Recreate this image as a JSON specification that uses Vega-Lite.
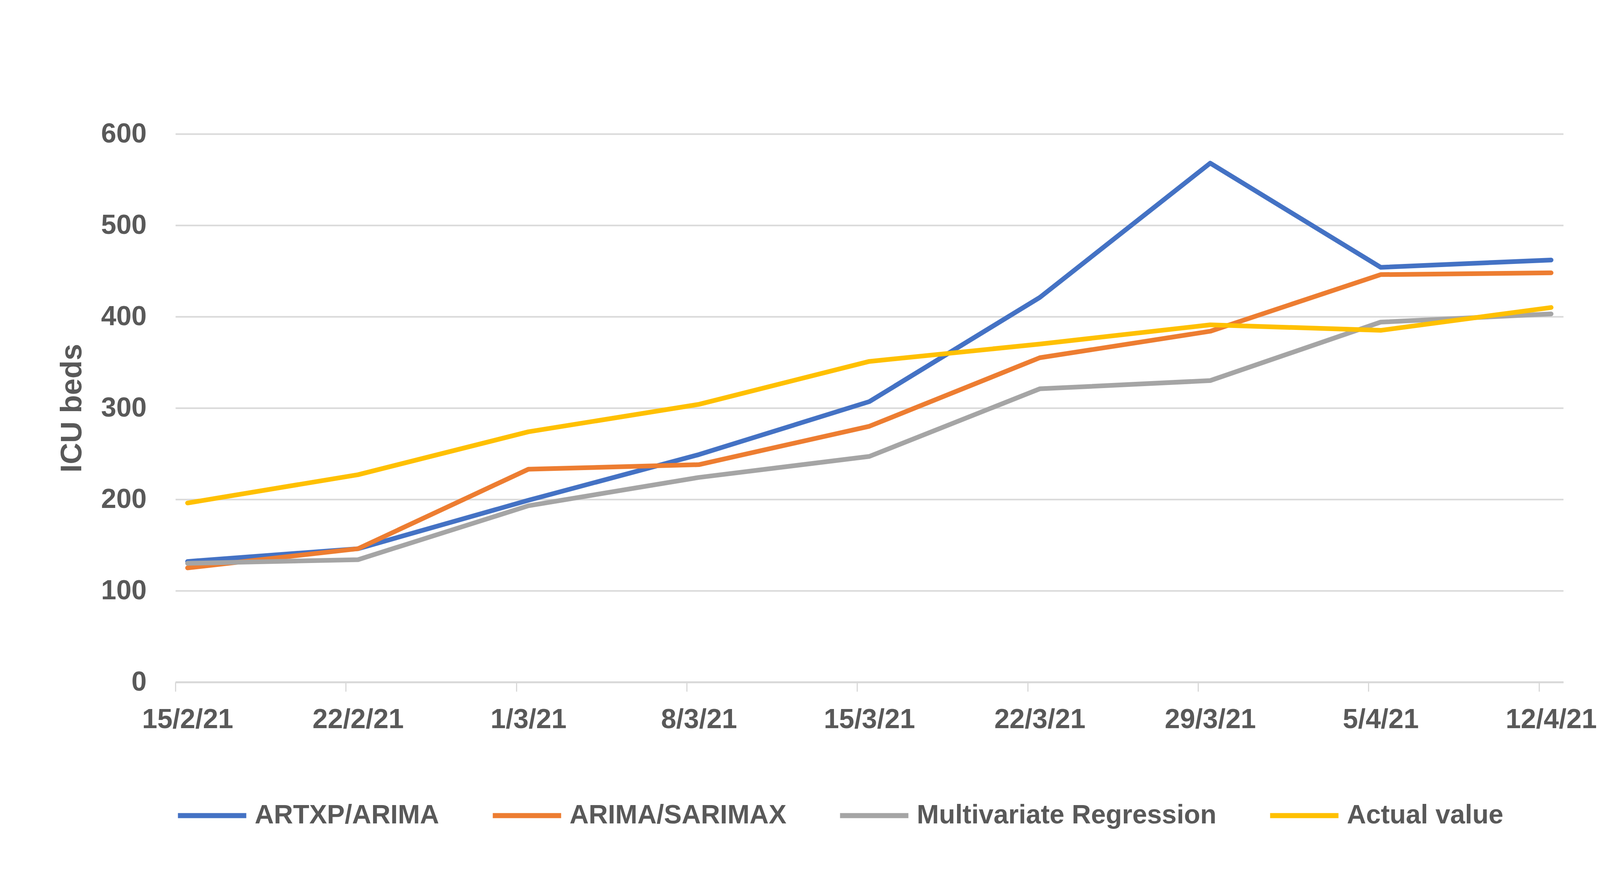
{
  "$schema": "https://vega.github.io/schema/vega-lite/v6.json",
  "autosize": {"type": "none"},
  "width": 3553,
  "height": 1404,
  "padding": {"left": 449, "top": 343, "right": 280, "bottom": 489},
  "background": "white",
  "config": {
    "view": {"stroke": null},
    "font": "Liberation Sans"
  },
  "data": {
    "values": [
      {"date": "2021-02-15T12:00:00", "series": "ARTXP/ARIMA", "value": 132},
      {"date": "2021-02-22T12:00:00", "series": "ARTXP/ARIMA", "value": 146},
      {"date": "2021-03-01T12:00:00", "series": "ARTXP/ARIMA", "value": 199},
      {"date": "2021-03-08T12:00:00", "series": "ARTXP/ARIMA", "value": 249},
      {"date": "2021-03-15T12:00:00", "series": "ARTXP/ARIMA", "value": 307},
      {"date": "2021-03-22T12:00:00", "series": "ARTXP/ARIMA", "value": 421},
      {"date": "2021-03-29T12:00:00", "series": "ARTXP/ARIMA", "value": 568},
      {"date": "2021-04-05T12:00:00", "series": "ARTXP/ARIMA", "value": 454},
      {"date": "2021-04-12T12:00:00", "series": "ARTXP/ARIMA", "value": 462},
      {"date": "2021-02-15T12:00:00", "series": "ARIMA/SARIMAX", "value": 125},
      {"date": "2021-02-22T12:00:00", "series": "ARIMA/SARIMAX", "value": 146},
      {"date": "2021-03-01T12:00:00", "series": "ARIMA/SARIMAX", "value": 233},
      {"date": "2021-03-08T12:00:00", "series": "ARIMA/SARIMAX", "value": 238},
      {"date": "2021-03-15T12:00:00", "series": "ARIMA/SARIMAX", "value": 280},
      {"date": "2021-03-22T12:00:00", "series": "ARIMA/SARIMAX", "value": 355},
      {"date": "2021-03-29T12:00:00", "series": "ARIMA/SARIMAX", "value": 384},
      {"date": "2021-04-05T12:00:00", "series": "ARIMA/SARIMAX", "value": 446},
      {"date": "2021-04-12T12:00:00", "series": "ARIMA/SARIMAX", "value": 448},
      {"date": "2021-02-15T12:00:00", "series": "Multivariate Regression", "value": 130},
      {"date": "2021-02-22T12:00:00", "series": "Multivariate Regression", "value": 134},
      {"date": "2021-03-01T12:00:00", "series": "Multivariate Regression", "value": 193},
      {"date": "2021-03-08T12:00:00", "series": "Multivariate Regression", "value": 224},
      {"date": "2021-03-15T12:00:00", "series": "Multivariate Regression", "value": 247},
      {"date": "2021-03-22T12:00:00", "series": "Multivariate Regression", "value": 321},
      {"date": "2021-03-29T12:00:00", "series": "Multivariate Regression", "value": 330},
      {"date": "2021-04-05T12:00:00", "series": "Multivariate Regression", "value": 394},
      {"date": "2021-04-12T12:00:00", "series": "Multivariate Regression", "value": 403},
      {"date": "2021-02-15T12:00:00", "series": "Actual value", "value": 196},
      {"date": "2021-02-22T12:00:00", "series": "Actual value", "value": 227},
      {"date": "2021-03-01T12:00:00", "series": "Actual value", "value": 274},
      {"date": "2021-03-08T12:00:00", "series": "Actual value", "value": 304},
      {"date": "2021-03-15T12:00:00", "series": "Actual value", "value": 351},
      {"date": "2021-03-22T12:00:00", "series": "Actual value", "value": 370},
      {"date": "2021-03-29T12:00:00", "series": "Actual value", "value": 391},
      {"date": "2021-04-05T12:00:00", "series": "Actual value", "value": 385},
      {"date": "2021-04-12T12:00:00", "series": "Actual value", "value": 410}
    ]
  },
  "mark": {"type": "line", "strokeWidth": 12, "strokeCap": "round", "strokeJoin": "round"},
  "encoding": {
    "x": {
      "field": "date",
      "type": "temporal",
      "scale": {"domain": [{"year": 2021, "month": 2, "date": 15}, {"year": 2021, "month": 4, "date": 13}]},
      "axis": {
        "title": null,
        "values": [
          {"year": 2021, "month": 2, "date": 15},
          {"year": 2021, "month": 2, "date": 22},
          {"year": 2021, "month": 3, "date": 1},
          {"year": 2021, "month": 3, "date": 8},
          {"year": 2021, "month": 3, "date": 15},
          {"year": 2021, "month": 3, "date": 22},
          {"year": 2021, "month": 3, "date": 29},
          {"year": 2021, "month": 4, "date": 5},
          {"year": 2021, "month": 4, "date": 12}
        ],
        "format": "%-d/%-m/%y",
        "labelOffset": 31,
        "labelFont": "Liberation Sans",
        "labelFontWeight": "bold",
        "labelFontSize": 70,
        "labelColor": "#595959",
        "labelPadding": 38,
        "labelLimit": 1000,
        "labelFlush": false,
        "labelOverlap": false,
        "grid": false,
        "domainColor": "#d9d9d9",
        "domainWidth": 5,
        "tickColor": "#d9d9d9",
        "tickSize": 24,
        "tickWidth": 3
      }
    },
    "y": {
      "field": "value",
      "type": "quantitative",
      "scale": {"domain": [0, 600], "nice": false},
      "axis": {
        "title": "ICU beds",
        "titleFont": "Liberation Sans",
        "titleFontWeight": "bold",
        "titleFontSize": 76,
        "titleColor": "#595959",
        "titlePadding": 35,
        "values": [0, 100, 200, 300, 400, 500, 600],
        "labelFont": "Liberation Sans",
        "labelFontWeight": "bold",
        "labelFontSize": 70,
        "labelColor": "#595959",
        "labelPadding": 74,
        "ticks": false,
        "domain": false,
        "gridColor": "#d9d9d9",
        "gridWidth": 4
      }
    },
    "color": {
      "field": "series",
      "type": "nominal",
      "sort": ["ARTXP/ARIMA", "ARIMA/SARIMAX", "Multivariate Regression", "Actual value"],
      "scale": {
        "domain": ["ARTXP/ARIMA", "ARIMA/SARIMAX", "Multivariate Regression", "Actual value"],
        "range": ["#4472C4", "#ED7D31", "#A5A5A5", "#FFC000"]
      },
      "legend": {
        "title": null,
        "orient": "bottom",
        "direction": "horizontal",
        "offset": 117,
        "symbolType": "stroke",
        "symbolSize": 30625,
        "symbolStrokeWidth": 13,
        "labelFont": "Liberation Sans",
        "labelFontWeight": "bold",
        "labelFontSize": 68,
        "labelColor": "#595959",
        "labelOffset": 15,
        "labelLimit": 2000,
        "columnPadding": 110
      }
    }
  }
}
